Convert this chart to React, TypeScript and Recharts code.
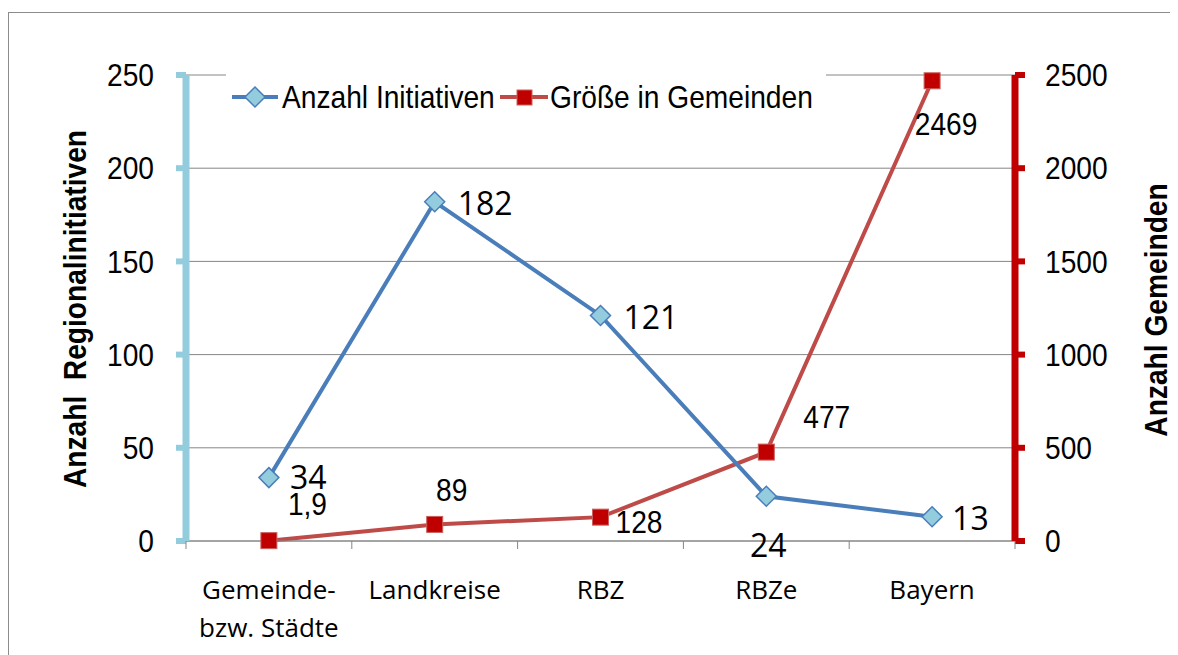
import React from 'react';
import { LineChart, Line, XAxis, YAxis, CartesianGrid, Legend, LabelList } from 'recharts';

// ---- data ----
const categories = ['Gemeinde-\nbzw. Städte', 'Landkreise', 'RBZ', 'RBZe', 'Bayern'];
const initiativen = [34, 182, 121, 24, 13];
const gemeinden = [1.9, 89, 128, 477, 2469];
const gemeindenLabels = ['1,9', '89', '128', '477', '2469'];
const leftTicks = [0, 50, 100, 150, 200, 250];
const rightTicks = [0, 500, 1000, 1500, 2000, 2500];
const seriesNames = ['Anzahl Initiativen', 'Größe in Gemeinden'];

const data = categories.map((c, i) => ({
  idx: i,
  name: c,
  initiativen: initiativen[i],
  gemeinden: gemeinden[i],
}));
const xTicks = [-0.5, ...categories.flatMap((_, i) => [i, i + 0.5])];

// ---- styles ----
const NARROW = "'Liberation Sans', Arial, sans-serif";
const SQUEEZE = 0.88;
const WIDE = "'Open Sans', 'Noto Sans', sans-serif";
const BLUE = '#4a7ebb';
const BLUE_FILL = '#93cddd';
const RED = '#be4b48';
const RED_FILL = '#c00000';
const GRID = '#868686';

// label offsets (anchor, dx, dy) relative to the point
const blueLabelPos = [
  { a: 'start', dx: 21, dy: -1 },
  { a: 'start', dx: 23, dy: 1 },
  { a: 'start', dx: 23, dy: 1 },
  { a: 'middle', dx: 2, dy: 48 },
  { a: 'start', dx: 20, dy: 1 },
];
const redLabelPos = [
  { a: 'start', dx: 19, dy: -37 },
  { a: 'middle', dx: 17, dy: -35 },
  { a: 'start', dx: 15, dy: 5 },
  { a: 'start', dx: 37, dy: -35 },
  { a: 'middle', dx: 14, dy: 43 },
];

// condensed text: a regular sans squeezed horizontally
const NText = (props: any) => {
  const { x, y, rotate, anchor, size, bold, children, space } = props;
  const tr = `translate(${x} ${y})${rotate ? ` rotate(${rotate})` : ''} scale(${SQUEEZE} 1)`;
  return (
    <text
      x={0}
      y={0}
      transform={tr}
      textAnchor={anchor || 'start'}
      dominantBaseline="central"
      fontFamily={NARROW}
      fontSize={size || 32}
      fontWeight={bold ? 'bold' : 'normal'}
      fill="#000"
      style={space ? { whiteSpace: 'pre' } : undefined}
    >
      {children}
    </text>
  );
};

const Diamond = (props: any) => {
  const { cx, cy } = props;
  if (cx == null || cy == null) return null;
  const r = 10;
  return (
    <polygon
      points={`${cx},${cy - r} ${cx + r},${cy} ${cx},${cy + r} ${cx - r},${cy}`}
      fill={BLUE_FILL}
      stroke={BLUE}
      strokeWidth={1.5}
    />
  );
};

const Square = (props: any) => {
  const { cx, cy } = props;
  if (cx == null || cy == null) return null;
  const s = 16;
  return <rect x={cx - s / 2} y={cy - s / 2} width={s} height={s} fill={RED_FILL} stroke="#c9605d" strokeWidth={1} />;
};

const BlueLabel = (props: any) => {
  const { x, y, index, value } = props;
  const p = blueLabelPos[index];
  return (
    <text x={x + p.dx} y={y + p.dy} textAnchor={p.a} dominantBaseline="central" fontFamily={WIDE} fontSize={32} fill="#000">
      {value}
    </text>
  );
};

const RedLabel = (props: any) => {
  const { x, y, index } = props;
  const p = redLabelPos[index];
  return (
    <NText x={x + p.dx} y={y + p.dy} anchor={p.a} size={32}>
      {gemeindenLabels[index]}
    </NText>
  );
};

const XTick = (props: any) => {
  const { x, y, payload } = props;
  const v = payload.value;
  if (Math.abs(v - Math.round(v)) > 0.01) {
    return <line x1={x} y1={y} x2={x} y2={y + 8} stroke={GRID} strokeWidth={1} />;
  }
  const lines = String(categories[Math.round(v)]).split('\n');
  return (
    <text x={x} y={y + 58} textAnchor="middle" fontFamily={WIDE} fontSize={26} fill="#000">
      {lines.map((l, i) => (
        <tspan key={i} x={x} dy={i === 0 ? 0 : 38}>
          {l}
        </tspan>
      ))}
    </text>
  );
};

const LeftTick = (props: any) => {
  const { x, y, payload } = props;
  return (
    <NText x={x} y={y} anchor="end" size={32}>
      {payload.value}
    </NText>
  );
};
const RightTick = (props: any) => {
  const { x, y, payload } = props;
  return (
    <NText x={x} y={y} anchor="start" size={32}>
      {payload.value}
    </NText>
  );
};

const renderLegend = () => (
  <svg width={600} height={52} style={{ display: 'block', background: '#fff' }}>
    <line x1={6} y1={27} x2={52} y2={27} stroke={BLUE} strokeWidth={4} />
    <polygon points="29,17 39,27 29,37 19,27" fill={BLUE_FILL} stroke={BLUE} strokeWidth={1.5} />
    <NText x={56} y={27} size={32}>
      {seriesNames[0]}
    </NText>
    <line x1={274} y1={27} x2={322} y2={27} stroke={RED} strokeWidth={4} />
    <rect x={291} y={20} width={15} height={15} fill={RED_FILL} stroke="#c9605d" />
    <NText x={324} y={27} size={32}>
      {seriesNames[1]}
    </NText>
  </svg>
);

export default function App() {
  return (
    <div
      style={{
        marginTop: 4,
        width: 1170,
        height: 643,
        borderTop: '1px solid #8c8c8c',
        borderLeft: '1px solid #8c8c8c',
        boxSizing: 'border-box',
        background: '#fff',
      }}
    >
      <LineChart width={1169} height={642} data={data} margin={{ top: 62, right: 0, bottom: 0, left: 0 }}>
        <CartesianGrid yAxisId="left" horizontal vertical={false} stroke={GRID} strokeWidth={1} />
        <XAxis
          dataKey="idx"
          type="number"
          domain={[-0.5, 4.5]}
          ticks={xTicks}
          interval={0}
          height={114}
          tickSize={0}
          tickMargin={0}
          tickLine={false}
          axisLine={{ stroke: GRID, strokeWidth: 1 }}
          tick={<XTick />}
          allowDataOverflow
        />
        <YAxis
          yAxisId="left"
          orientation="left"
          width={177}
          domain={[0, 250]}
          ticks={leftTicks}
          interval={0}
          tickSize={10}
          tickMargin={22}
          axisLine={{ stroke: BLUE_FILL, strokeWidth: 7 }}
          tickLine={{ stroke: BLUE_FILL, strokeWidth: 6 }}
          tick={<LeftTick />}
          label={{
            content: (p: any) => {
              const vb = p.viewBox;
              return (
                <NText x={vb.x + 66} y={vb.y + vb.height / 2 + 1} rotate={-90} anchor="middle" size={32} bold space>
                  {'Anzahl  Regionalinitiativen'}
                </NText>
              );
            },
          }}
        />
        <YAxis
          yAxisId="right"
          orientation="right"
          width={163}
          domain={[0, 2500]}
          ticks={rightTicks}
          interval={0}
          tickSize={10}
          tickMargin={20}
          axisLine={{ stroke: RED_FILL, strokeWidth: 7 }}
          tickLine={{ stroke: RED_FILL, strokeWidth: 6 }}
          tick={<RightTick />}
          label={{
            content: (p: any) => {
              const vb = p.viewBox;
              return (
                <NText x={vb.x + 141} y={vb.y + vb.height / 2 + 2} rotate={-90} anchor="middle" size={32} bold>
                  {'Anzahl Gemeinden'}
                </NText>
              );
            },
          }}
        />
        <Legend
          layout="vertical"
          align="center"
          verticalAlign="middle"
          wrapperStyle={{ top: 57, left: 217, width: 600, height: 52 }}
          content={renderLegend}
        />
        <Line
          yAxisId="right"
          dataKey="gemeinden"
          stroke={RED}
          strokeWidth={4}
          dot={<Square />}
          activeDot={false}
          isAnimationActive={false}
        >
          <LabelList dataKey="gemeinden" content={<RedLabel />} />
        </Line>
        <Line
          yAxisId="left"
          dataKey="initiativen"
          stroke={BLUE}
          strokeWidth={4}
          dot={<Diamond />}
          activeDot={false}
          isAnimationActive={false}
        >
          <LabelList dataKey="initiativen" content={<BlueLabel />} />
        </Line>
      </LineChart>
    </div>
  );
}
